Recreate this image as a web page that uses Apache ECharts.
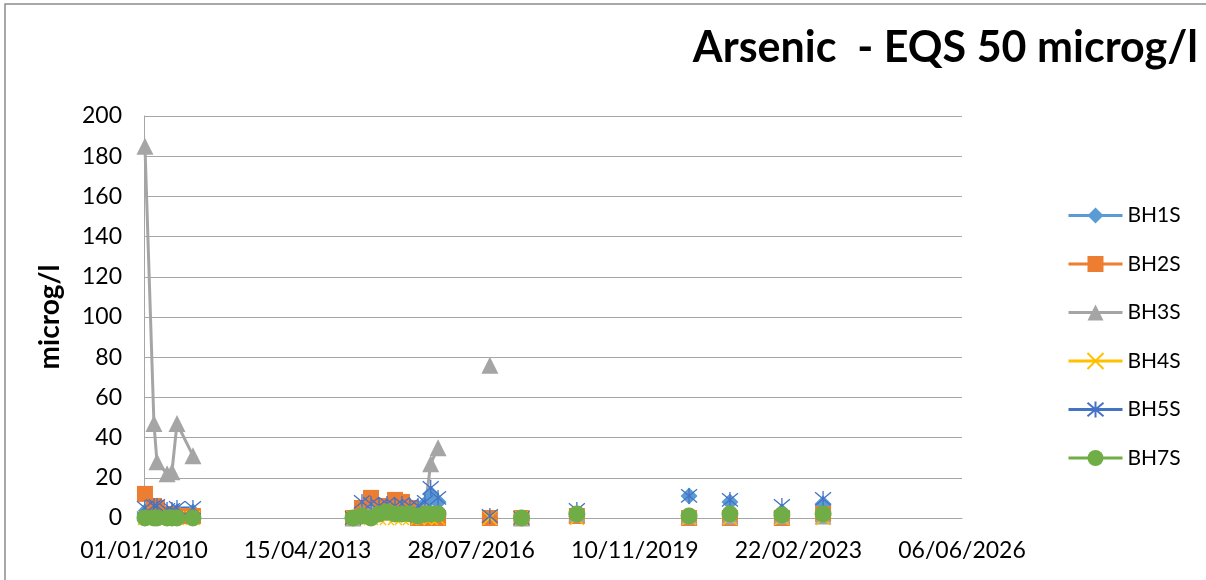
<!DOCTYPE html>
<html>
<head>
<meta charset="utf-8">
<title>Arsenic</title>
<script src="https://cdn.jsdelivr.net/npm/echarts@6/dist/echarts.min.js"></script>
<style>
  html, body { margin: 0; padding: 0; background: #fff; }
  #chart { width: 1206px; height: 580px; }
</style>
</head>
<body>
<div id="chart"></div>
<script>
// sample dates (one row per sampling round)
const dates = [
  '2010-01-08', '2010-03-15', '2010-04-06', '2010-06-19', '2010-07-25', '2010-08-31', '2010-12-26',
  '2014-03-14', '2014-05-19', '2014-07-24', '2014-09-21', '2014-11-18', '2015-01-16',
  '2015-03-08', '2015-05-06', '2015-07-04', '2015-08-24', '2015-10-05', '2015-11-28',
  '2016-12-12', '2017-08-01', '2018-09-11', '2020-12-12', '2021-10-08', '2022-10-24', '2023-08-22',
]

// microg/l, null = not sampled
const bh1s = [3, 4, 3, 2, 2, 3, 3, 0, 5, 6, 5, 6, 5, 6, 5, 5, 7, 12, 8, 0, 0, 2, 11, 8, 3, 7]
const bh2s = [12, 6, 5, 2, 2, 1, 1, 0, 5, 10, 6, 4, 9, 8, 5, 0, 0, 0, 0, 0, 0, 1, 0, 0, 0, 2]
const bh3s = [185, 47, 28, 22, 23, 47, 31, 0, 3, 4, 3, 3, 3, 3, 3, 4, 5, 27, 35, 76, 0, 2, 1, 1, 1, 1]
const bh4s = [0, 0, 0, 0, 0, 0, 0, 0, 0, 0, 0, 0, 0, 0, 0, 0, 0, 0, 0, 0, 0, 0, 0, 0, 0, 0]
const bh5s = [5, 6, 6, 4, 4, 5, 5, 0, 8, 7, 6, 7, 6, 7, 6, 6, 8, 15, 10, 1, 0, 4, 11, 9, 6, 9.5]
const bh7s = [0, 0, 0, 0, 0, 0, 0, 0, 1, 0, 2, 3, 2, 2, 2, 1, 2, 2, 2, null, 0, 2, 1, 2, 1.5, 2]

const seriesNames = ['BH1S', 'BH2S', 'BH3S', 'BH4S', 'BH5S', 'BH7S']
const xTickDays = 1200

const DAY = 86400000
const ORIGIN = Date.UTC(2010, 0, 1)

function toDays(s) {
  const p = s.split('-').map(Number)
  return Math.round((Date.UTC(p[0], p[1] - 1, p[2]) - ORIGIN) / DAY)
}

function fmtDate(v) {
  const d = new Date(ORIGIN + v * DAY)
  const pad = (n) => String(n).padStart(2, '0')
  return pad(d.getUTCDate()) + '/' + pad(d.getUTCMonth() + 1) + '/' + d.getUTCFullYear()
}

// lines are broken where sampling rounds are far apart
function points(values) {
  const out = []
  let prev = null
  dates.forEach((s, i) => {
    const x = toDays(s)
    if (prev !== null && x - prev > 200) out.push([x - 1, '-'])
    out.push([x, values[i] == null ? '-' : values[i]])
    prev = x
  })
  return out
}

const FONT = 'Lato, "Liberation Sans", sans-serif'

const crossPath = 'path://M0,0L10,10M10,0L0,10'
const starPath = 'path://M0,0L10,10M10,0L0,10M5,-1L5,11'

function lineSeries(name, values, color, symbol, size, stroked) {
  return {
    name,
    type: 'line',
    data: points(values),
    symbol,
    symbolSize: size,
    showAllSymbol: true,
    lineStyle: { color, width: 3 },
    itemStyle: stroked
      ? { color: 'rgba(0,0,0,0)', borderColor: color, borderWidth: 1.3 }
      : { color, borderWidth: 0 },
    emphasis: { disabled: true },
  }
}

const chart = echarts.init(document.getElementById('chart'))

chart.setOption({
  backgroundColor: '#fff',
  animation: false,
  textStyle: { fontFamily: FONT },
  title: {
    text: 'Arsenic  - EQS 50 microg/l',
    right: 3,
    top: 22,
    textStyle: { fontFamily: FONT, fontSize: 43, fontWeight: 'bold', color: '#000' },
  },
  graphic: [
    {
      type: 'polyline',
      shape: { points: [[5, 580], [5, 4], [1206, 4]] },
      style: { stroke: '#8c8c8c', lineWidth: 1.5, fill: null },
    },
  ],
  legend: {
    orient: 'vertical',
    left: 1062,
    top: 200,
    itemWidth: 54,
    itemHeight: 20,
    itemGap: 27.5,
    lineStyle: { width: 3 },
    textStyle: { fontFamily: FONT, fontSize: 21, color: '#000', lineHeight: 20 },
    data: seriesNames,
  },
  grid: { left: 144, right: 244, top: 116, bottom: 62 },
  xAxis: {
    type: 'value',
    min: 0,
    max: 6000,
    interval: xTickDays,
    axisLine: { show: true, onZero: false, lineStyle: { color: '#a6a6a6', width: 1 } },
    axisTick: { show: false },
    splitLine: { show: false },
    axisLabel: {
      margin: 21,
      fontFamily: FONT,
      fontSize: 23,
      color: '#000',
      formatter: fmtDate,
    },
  },
  yAxis: {
    type: 'value',
    min: 0,
    max: 200,
    interval: 20,
    name: 'microg/l',
    nameLocation: 'middle',
    nameGap: 80,
    nameTextStyle: { fontFamily: FONT, fontSize: 28, fontWeight: 'bold', color: '#000' },
    axisLine: { show: true, lineStyle: { color: '#a6a6a6', width: 1 } },
    axisTick: { show: false },
    splitLine: { lineStyle: { color: '#a6a6a6', width: 1 } },
    axisLabel: { margin: 22, fontFamily: FONT, fontSize: 23, color: '#000' },
  },
  series: [
    lineSeries('BH1S', bh1s, '#5B9BD5', 'diamond', 17, false),
    lineSeries('BH2S', bh2s, '#ED7D31', 'rect', 16, false),
    lineSeries('BH3S', bh3s, '#A5A5A5', 'triangle', 17, false),
    lineSeries('BH4S', bh4s, '#FFC000', crossPath, 14, true),
    lineSeries('BH5S', bh5s, '#4472C4', starPath, 16, true),
    lineSeries('BH7S', bh7s, '#70AD47', 'circle', 17, false),
  ],
})
</script>
</body>
</html>
